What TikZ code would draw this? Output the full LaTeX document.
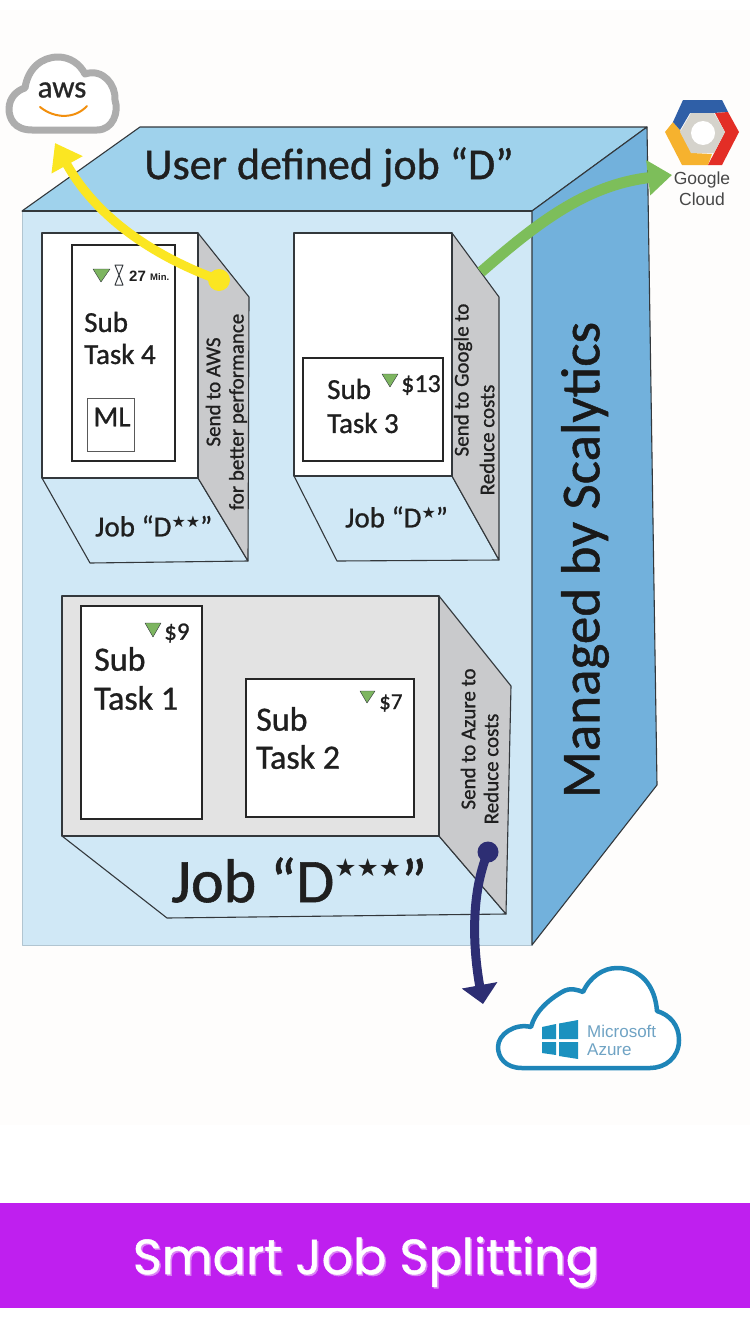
\documentclass[tikz,border=0pt]{standalone}
\usepackage{fontspec}
\setmainfont[FakeBold=0.9]{Carlito}
\newfontfamily\popp[FakeBold=1.0]{Poppins}
\newfontfamily\djv{DejaVu Sans}
\newfontfamily\liber{Liberation Sans}
\usetikzlibrary{arrows.meta}
\definecolor{paper}{HTML}{FEFDFC}
\definecolor{frontc}{HTML}{D0E8F6}
\definecolor{topc}{HTML}{9FD2EC}
\definecolor{rightc}{HTML}{72B1DC}
\definecolor{edgec}{HTML}{33383C}
\definecolor{sidegray}{HTML}{C9CACC}
\definecolor{lightgray}{HTML}{E3E3E3}
\definecolor{tri}{HTML}{7DB560}
\definecolor{yel}{HTML}{FBE622}
\definecolor{grn}{HTML}{7DBE5A}
\definecolor{navy}{HTML}{2D2E73}
\definecolor{azurec}{HTML}{1E85B8}
\definecolor{band}{HTML}{BF1FEF}
\definecolor{gblue}{HTML}{2F5FA7}
\definecolor{gred}{HTML}{E32E26}
\definecolor{gyel}{HTML}{F6B22E}
\definecolor{ggray}{HTML}{D5D3CC}
\definecolor{azt}{HTML}{6FA3C4}
\newcommand{\st}{{\djv\raisebox{0.32em}{\scalebox{0.55}{★}}}}
\newcommand{\stb}{{\djv\raisebox{0.42em}{\scalebox{0.4}{★}}}}
\tikzset{
 edge/.style={draw=edgec,line width=1.1pt,line join=round},
 taskbox/.style={draw=black!85,line width=2.6pt,fill=white},
 label/.style={inner sep=0pt,anchor=west,text=black!88},
 vert/.style={inner sep=0pt,rotate=90,text=black!88,font=\fontsize{21}{21}\selectfont},
 down/.style={fill=tri,draw=edgec,line width=0.4pt,line join=round},
 flow/.style={line width=9pt}
}
\begin{document}
\begin{tikzpicture}[x=1pt,y=-1pt]
\useasboundingbox (0,0) rectangle (750,1330);
\fill[white] (0,0) rectangle (750,1330);
\fill[paper] (0,10) rectangle (750,1125);
% cube
\path[edge,fill=frontc,draw=frontc!85!black,line width=0.6pt] (22,211) rectangle (532,945);
\path[edge,fill=topc] (22,211) -- (140,127) -- (647,127) -- (532,211) -- cycle;
\path[edge,fill=rightc] (532,211) -- (647,127) -- (657,785) -- (532,945) -- cycle;
\draw[edge] (22,211) -- (532,211);
\node[label,anchor=center,font=\fontsize{44}{44}\selectfont] (title) at (329,167) {User defined job “D”};
\node[inner sep=0pt,rotate=90,text=black!90,font=\fontsize{55}{55}\selectfont] (mgd) at (585,560) {Managed by Scalytics};
% Job D**
\path[edge,fill=frontc] (42,478) -- (198,478) -- (248,561) -- (90,563) -- cycle;
\path[edge,fill=sidegray] (198,233) -- (249,297) -- (248,561) -- (198,478) -- cycle;
\path[edge,fill=white] (42,233) rectangle (198,478);
\path[taskbox] (72,245) rectangle (175,461);
\path[draw=black!65,line width=1pt,fill=white] (87,398) rectangle (134,451);
\path[down] (93,269) -- (110,269) -- (101,282) -- cycle;
\draw[edgec,line width=1pt,line join=round] (115,265) -- (123,265) -- (115,285) -- (123,285) -- cycle;
\node[label,font=\liber\bfseries\fontsize{15}{15}\selectfont] (t27) at (129,276) {27};
\node[label,font=\liber\bfseries\fontsize{9.5}{10}\selectfont] (tmin) at (150,277) {Min.};
\node[label,font=\fontsize{29}{29}\selectfont] (s4a) at (84,322) {Sub};
\node[label,font=\fontsize{29}{29}\selectfont] (s4b) at (84,354) {Task 4};
\node[label,anchor=center,font=\fontsize{29}{29}\selectfont] (ml) at (112,417) {ML};
\node[vert] (v1) at (213,392) {Send to AWS};
\node[vert] (v2) at (238,412) {for better performance};
\node[label,font=\fontsize{29}{29}\selectfont] (j2) at (95,526) {Job “D\st\st”};
% Job D*
\path[edge,fill=frontc] (294,476) -- (452,476) -- (499,560) -- (337,561) -- cycle;
\path[edge,fill=sidegray] (452,233) -- (499,297) -- (499,560) -- (452,476) -- cycle;
\path[edge,fill=white] (294,233) rectangle (452,476);
\path[taskbox] (303,358) rectangle (443,461);
\path[down] (382,374) -- (398,374) -- (390,387) -- cycle;
\node[label,font=\fontsize{26}{26}\selectfont] (p13) at (401,385) {\$13};
\node[label,font=\fontsize{29}{29}\selectfont] (s3a) at (327,389) {Sub};
\node[label,font=\fontsize{29}{29}\selectfont] (s3b) at (327,423) {Task 3};
\node[vert] (v3) at (463,380) {Send to Google to};
\node[vert] (v4) at (487,440) {Reduce costs};
\node[label,font=\fontsize{29}{29}\selectfont] (j1) at (345,517) {Job “D\st”};
% Job D***
\path[edge,fill=frontc] (62,836) -- (439,836) -- (506,914) -- (167,918) -- cycle;
\path[edge,fill=sidegray] (439,596) -- (511,686) -- (506,914) -- (439,836) -- cycle;
\path[edge,fill=lightgray] (62,596) rectangle (439,836);
\path[taskbox] (81,606) rectangle (202,819);
\path[taskbox] (246,679) rectangle (414,817);
\path[down] (145,623) -- (161,623) -- (153,637) -- cycle;
\node[label,font=\fontsize{25}{25}\selectfont] (p9) at (164,633) {\$9};
\node[label,font=\fontsize{34}{34}\selectfont] (s1a) at (94,659) {Sub};
\node[label,font=\fontsize{34}{34}\selectfont] (s1b) at (94,698) {Task 1};
\path[down] (360,691) -- (375,691) -- (367,703) -- cycle;
\node[label,font=\fontsize{23}{23}\selectfont] (p7) at (379,703) {\$7};
\node[label,font=\fontsize{34}{34}\selectfont] (s2a) at (256,719) {Sub};
\node[label,font=\fontsize{34}{34}\selectfont] (s2b) at (256,757) {Task 2};
\node[vert] (v5) at (468,739) {Send to Azure to};
\node[vert] (v6) at (491,769) {Reduce costs};
\node[label,font=\fontsize{62}{62}\selectfont] (j3) at (171,880) {Job “D\stb\stb\stb”};
% AWS cloud
\draw[draw=black!32,line width=7pt,line join=round,fill=white]
 (32,130) .. controls (14,130) and (9,118) .. (9,109)
 .. controls (9,97) and (18,90) .. (25,88)
 .. controls (28,68) and (42,57) .. (58,57)
 .. controls (70,57) and (80,64) .. (85,74)
 .. controls (103,68) and (116,85) .. (115,100)
 .. controls (119,112) and (113,130) .. (97,130) -- cycle;
\node[inner sep=0pt,text=black!85,font=\fontsize{31}{31}\selectfont] (aws) at (62,90) {aws};
\draw[draw=orange!85!yellow!80!brown,line width=2pt,line cap=round] (40,107) .. controls (55,119) and (75,119) .. (87,106);
% Google
\fill[gyel] (665,132) -- (673,122) -- (680,130) -- (692,153) -- (712,154) -- (708,165) -- (682,165) -- cycle;
\fill[gblue] (673,122) -- (683,100) -- (722,100) -- (728,112) -- (713,113) -- (690,113) -- (680,130) -- cycle;
\fill[gred] (728,112) -- (739,132) -- (722,165) -- (708,165) -- (725,132) -- (715,113) -- cycle;
\fill[ggray] (680,132) -- (691,113) -- (714,113) -- (725,132) -- (714,153) -- (691,153) -- cycle;
\fill[white] (703,133) circle (12);
\node[inner sep=0pt,text=black!72,font=\liber\fontsize{17.5}{18}\selectfont] (gc1) at (702,180) {Google};
\node[inner sep=0pt,text=black!72,font=\liber\fontsize{17.5}{18}\selectfont] (gc2) at (702,199) {Cloud};
% Azure cloud
\draw[azurec,line width=4.5pt,line join=round,fill=white]
 (522,1068) .. controls (505,1068) and (498,1057) .. (498,1047)
 .. controls (498,1034) and (515,1023) .. (531,1027)
 .. controls (535,1012) and (548,1000) .. (562,992)
 .. controls (570,987) and (578,990) .. (583,992)
 .. controls (590,977) and (603,968) .. (617,968)
 .. controls (640,968) and (655,985) .. (657,1011)
 .. controls (670,1015) and (679,1025) .. (679,1040)
 .. controls (679,1058) and (665,1068) .. (650,1068) -- cycle;
\fill[azurec!90!cyan] (542,1027) -- (556,1024) -- (556,1039) -- (542,1039) -- cycle
 (559,1023.5) -- (578,1020) -- (578,1039) -- (559,1039) -- cycle
 (542,1042) -- (556,1042) -- (556,1055) -- (542,1053) -- cycle
 (559,1042) -- (578,1042) -- (578,1059) -- (559,1056) -- cycle;
\node[label,text=azt,font=\liber\fontsize{17}{17}\selectfont] (az1) at (587,1031) {Microsoft};
\node[label,text=azt,font=\liber\fontsize{17}{17}\selectfont] (az2) at (587,1050) {Azure};
% Arrows
\coordinate (yA) at (219,280);
\coordinate (yB) at (55,143);
\coordinate (gA) at (481,272);
\coordinate (gB) at (672,175);
\coordinate (nA) at (488,852);
\coordinate (nB) at (483,1004);
\draw[yel,flow,-{Triangle[length=25pt,width=34pt]}] (yA) .. controls (150,255) and (95,215) .. (yB);
\fill[yel] (yA) circle (11);
\draw[grn,flow,line width=11pt,-{Triangle[length=24pt,width=34pt]}] (gA) .. controls (535,225) and (585,185) .. (gB);
\draw[navy,flow,-{Triangle[length=19pt,width=35pt]}] (nA) .. controls (468,900) and (475,960) .. (nB);
\fill[navy] (nA) circle (10.5);
% Band
\fill[band] (0,1203) rectangle (750,1308);
\node[inner sep=0pt,text=band!55!white,font=\popp\fontsize{49.3}{50}\selectfont] at (367.5,1263.5) {Smart Job Splitting};
\node[inner sep=0pt,text=white,font=\popp\fontsize{49.3}{50}\selectfont] (bandlabel) at (366,1262) {Smart Job Splitting};
\end{tikzpicture}
\end{document}
